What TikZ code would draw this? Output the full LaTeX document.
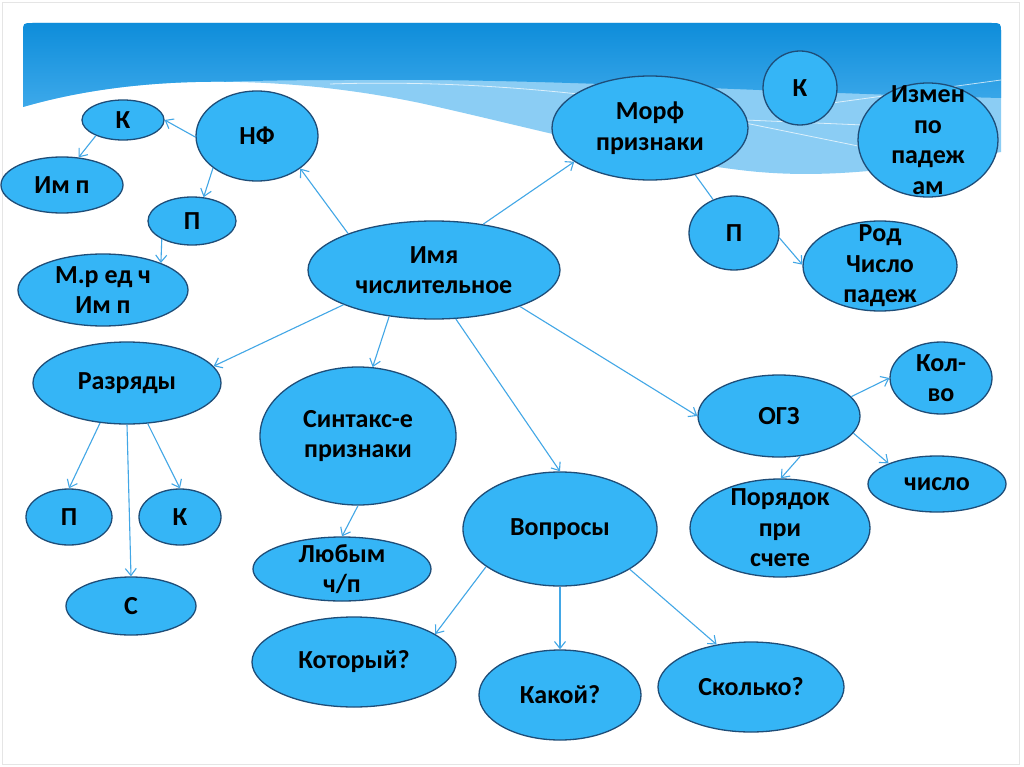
\documentclass[tikz,border=0pt]{standalone}
\usepackage{fontspec}
\setmainfont{Carlito}
\usetikzlibrary{shapes.geometric,arrows.meta}
\definecolor{bubfill}{HTML}{35B5F6}
\definecolor{bubline}{HTML}{1E4D78}
\definecolor{arrcol}{HTML}{42A7E6}
\definecolor{bandtop}{HTML}{0E8DDA}
\definecolor{bandbot}{HTML}{3DA9EA}
\definecolor{bandlight}{HTML}{8BCDF4}
\begin{document}
\begin{tikzpicture}[x=1pt,y=-1pt,
  bub/.style 2 args={draw=bubline, line width=1.3pt, fill=bubfill, ellipse, inner sep=0pt, minimum width=#1pt, minimum height=#2pt},
  txt/.style={align=center, text=black, font=\fontsize{26}{30.5}\selectfont\bfseries, inner sep=0pt},
  arr/.style={draw=arrcol, line width=1.1pt, -{Straight Barb[length=7pt,width=11pt]}},
  waveline/.style={draw=white, line width=0.8pt, opacity=0.7}]
\useasboundingbox[fill=white] (0,0) rectangle (1024,767);
\draw[black!10] (2,2) rectangle (1019,764);
% header band
\path[fill=bandlight] (23,107) -- (23,33) .. controls (23,23) .. (33,23) -- (991,23) .. controls (1001,23) .. (1001,33) -- (1001,152)
  .. controls (900,170) and (820,180) .. (740,170) .. controls (640,158) and (520,125) .. (420,103)
  .. controls (300,78) and (150,70) .. (23,107) -- cycle;
\begin{scope}
\clip (23,107) -- (23,33) .. controls (23,23) .. (33,23) -- (991,23) .. controls (1001,23) .. (1001,33) -- (1001,152)
  .. controls (900,170) and (820,180) .. (740,170) .. controls (640,158) and (520,125) .. (420,103)
  .. controls (300,78) and (150,70) .. (23,107) -- cycle;
\shade[top color=bandtop, bottom color=bandbot] (23,107) -- (23,23) -- (1001,23) -- (1001,98)
  .. controls (750,92) and (550,78) .. (350,80) .. controls (200,80) and (100,85) .. (23,107) -- cycle;
\draw[waveline] (330,84) .. controls (450,80) and (600,90) .. (745,120);
\draw[waveline] (745,120) -- (863,125);
\draw[waveline] (745,123) -- (863,147);
\draw[waveline] (832,103) -- (1001,80);
\end{scope}

% bubbles
\node[bub={82}{40}, label={[txt]center:К}] (nfK) at (123,120) {};
\node[bub={122}{90}, label={[txt]center:НФ}] (nf) at (257,136) {};
\node[bub={122}{56}, label={[txt]center:Им п}] (nfIm) at (62,185) {};
\node[bub={88}{48}, label={[txt]center:П}] (nfP) at (192,221) {};
\node[bub={170}{72}, label={[txt]center:{М.р ед ч\\Им п}}] (nfMr) at (103,290) {};
\node[bub={252}{98}, label={[txt]center:{Имя\\числительное}}] (imya) at (434,270) {};
\node[bub={196}{104}, label={[txt]center:{Морф\\признаки}}] (morf) at (650,128) {};
\node[bub={74}{74}, label={[txt]center:К}] (morfK) at (800,88) {};
\node[bub={140}{114}, label={[txt]center:{Измен\\по\\падеж\\ам}}] (morfIzm) at (928,140) {};
\node[bub={90}{74}, label={[txt]center:П}] (morfP) at (734,233) {};
\node[bub={154}{90}, label={[txt]center:{Род\\Число\\падеж}}] (morfRod) at (880,266) {};
\node[bub={188}{82}, label={[txt]center:Разряды}] (raz) at (127,383) {};
\node[bub={86}{56}, label={[txt]center:П}] (razP) at (69,517) {};
\node[bub={82}{56}, label={[txt]center:К}] (razK) at (180,517) {};
\node[bub={130}{58}, label={[txt]center:С}] (razS) at (131,606) {};
\node[bub={196}{138}, label={[txt]center:{Синтакс-е\\признаки}}] (sin) at (358,436) {};
\node[bub={178}{64}, label={[txt]center:{Любым\\ч/п}}] (sinL) at (342,569) {};
\node[bub={194}{114}, label={[txt]center:Вопросы}] (vop) at (560,529) {};
\node[bub={204}{90}, label={[txt]center:Который?}] (vopKot) at (354,662) {};
\node[bub={162}{90}, label={[txt]center:Какой?}] (vopKak) at (560,695) {};
\node[bub={186}{90}, label={[txt]center:Сколько?}] (vopSk) at (751,687) {};
\node[bub={162}{82}, label={[txt]center:ОГЗ}] (ogz) at (779,416) {};
\node[bub={102}{72}, label={[txt]center:{Кол-\\во}}] (ogzKol) at (941,378) {};
\node[bub={138}{56}, label={[txt]center:число}] (ogzCh) at (937,484) {};
\node[bub={180}{98}, label={[txt]center:{Порядок\\при\\счете}}] (ogzPor) at (780,528) {};

% connectors
\draw[arr] (imya.157) -- (nf.323);
\draw[arr] (nf.181) -- (nfK.0);
\draw[arr] (nfK.210) -- (nfIm.59);
\draw[arr] (nf.216) -- (nfP.64);
\draw[arr] (nfP.211) -- (nfMr.25);
\draw[arr] (imya.43) -- (morf.204);
\draw[arr, -] (morf.314) -- (morfP.122);
\draw[arr] (morfP.354) -- (morfRod.179);
\draw[arr] (imya.201) -- (raz.11);
\draw[arr] (imya.226) -- (sin.78);
\draw[arr] (imya.294) -- (vop.90);
\draw[arr] (imya.337) -- (ogz.180);
\draw[arr] (ogz.15) -- (ogzKol.180);
\draw[arr] (ogz.347) -- (ogzCh.157);
\draw[arr] (ogz.298) -- (ogzPor.89);
\draw[arr] (raz.236) -- (razP.90);
\draw[arr] (raz.270) -- (razS.90);
\draw[arr] (raz.297) -- (razK.90);
\draw[arr] (sin.270) -- (sinL.90);
\draw[arr] (vop.207) -- (vopKot.19);
\draw[arr] (vop.270) -- (vopKak.90);
\draw[arr] (vop.330) -- (vopSk.129);
\end{tikzpicture}
\end{document}
